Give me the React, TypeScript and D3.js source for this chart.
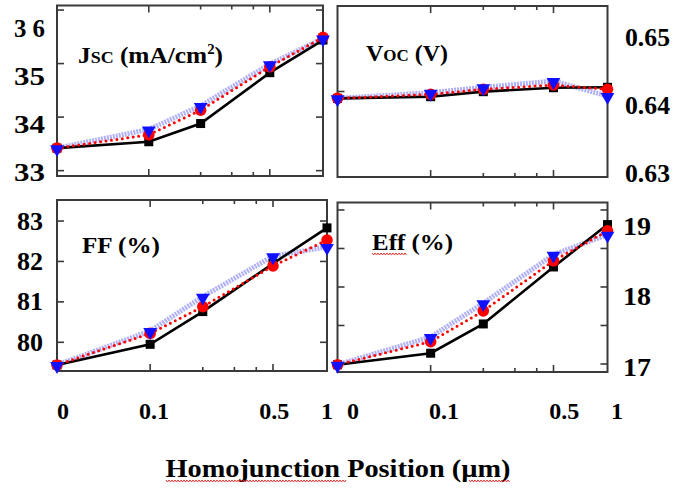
import React from 'react';
import * as d3 from 'd3';

// ---------- data ----------
const positions = [0, 0.1, 0.2, 0.5, 1];
const xLabelValues = [0, 0.1, 0.5, 1];
const xTickLabels = ['0', '0.1', '0.5', '1'];
const xMajorTicks = [0.1, 0.5];
const xMinorTicks = [0.2, 0.3, 0.4];

const jscSquares = [33.42, 33.54, 33.88, 34.83, 35.44];
const jscCircles = [33.42, 33.67, 34.13, 34.94, 35.49];
const jscTriangles = [33.42, 33.77, 34.21, 34.99, 35.47];

const vocSquares = [0.6392, 0.63939, 0.63998, 0.64044, 0.64049];
const vocCircles = [0.6392, 0.63967, 0.64026, 0.64076, 0.64026];
const vocTriangles = [0.6392, 0.63986, 0.64049, 0.64123, 0.63947];

const ffSquares = [79.44, 79.95, 80.76, 81.95, 82.83];
const ffCircles = [79.44, 80.22, 80.88, 81.89, 82.53];
const ffTriangles = [79.44, 80.28, 81.13, 82.13, 82.36];

const effSquares = [16.99, 17.14, 17.52, 18.26, 18.81];
const effCircles = [16.99, 17.29, 17.69, 18.34, 18.73];
const effTriangles = [16.99, 17.35, 17.79, 18.42, 18.68];

const jscTicks = [33, 34, 35, 36];
const jscTickLabels = ['33', '34', '35', '3 6'];
const vocTicks = [0.64];
const vocLabelValues = [0.63, 0.64, 0.65];
const vocTickLabels = ['0.63', '0.64', '0.65'];
const ffTicks = [80, 81, 82, 83];
const ffTickLabels = ['80', '81', '82', '83'];
const effTicks = [17, 17.5, 18, 18.5, 19];
const effLabelValues = [17, 18, 19];
const effTickLabels = ['17', '18', '19'];

// ---------- layout ----------
const W = 676;
const H = 488;
const FONT = "'Liberation Serif','Times New Roman',serif";
const X_STOPS = [0, 0.1, 0.2, 0.3, 0.4, 0.5, 1];
const X_FRACS = [0, 0.345, 0.54, 0.657, 0.738, 0.8, 1];
const FRAME = '#3a3a3a';

type Panel = {
  key: string;
  x0: number; x1: number; y0: number; y1: number;
  domain: [number, number];
  sq: number[]; ci: number[]; tr: number[];
  ticks: number[];
  tickRight: boolean;
  labelValues: number[];
  labels: string[];
  labelRange: [number, number] | null; // null => use main scale
  labelDomain: [number, number];
  labelX: number; labelAnchor: 'start' | 'end'; labelWidth: number;
};

const panels: Panel[] = [
  {
    key: 'jsc', x0: 57, x1: 323, y0: 5.5, y1: 176, domain: [32.9, 36.085],
    sq: jscSquares, ci: jscCircles, tr: jscTriangles,
    ticks: jscTicks, tickRight: true,
    labelValues: jscTicks, labels: jscTickLabels,
    labelDomain: [33, 36], labelRange: [172, 28],
    labelX: 45, labelAnchor: 'end', labelWidth: 31,
  },
  {
    key: 'voc', x0: 337.5, x1: 607.5, y0: 6, y1: 177, domain: [0.63, 0.65],
    sq: vocSquares, ci: vocCircles, tr: vocTriangles,
    ticks: vocTicks, tickRight: false,
    labelValues: vocLabelValues, labels: vocTickLabels,
    labelDomain: [0.63, 0.65], labelRange: [173, 37],
    labelX: 625, labelAnchor: 'start', labelWidth: 45,
  },
  {
    key: 'ff', x0: 57, x1: 327, y0: 200, y1: 371, domain: [79.29, 83.52],
    sq: ffSquares, ci: ffCircles, tr: ffTriangles,
    ticks: ffTicks, tickRight: true,
    labelValues: ffTicks, labels: ffTickLabels,
    labelDomain: [80, 83], labelRange: null,
    labelX: 17, labelAnchor: 'start', labelWidth: 26,
  },
  {
    key: 'eff', x0: 337.5, x1: 607.5, y0: 202.5, y1: 372, domain: [16.896, 19.097],
    sq: effSquares, ci: effCircles, tr: effTriangles,
    ticks: effTicks, tickRight: true,
    labelValues: effLabelValues, labels: effTickLabels,
    labelDomain: [17, 19], labelRange: [367, 226],
    labelX: 623, labelAnchor: 'start', labelWidth: 28,
  },
];

function wavy(x0: number, x1: number, y: number) {
  const pts: [number, number][] = [];
  for (let x = x0, i = 0; x <= x1; x += 1.5, i++) pts.push([x, y + (i % 2 === 0 ? -1 : 1)]);
  return d3.line()(pts) || '';
}

function PanelView({ p }: { p: Panel }) {
  const x = d3.scaleLinear().domain(X_STOPS).range(X_FRACS.map((f) => p.x0 + f * (p.x1 - p.x0)));
  const y = d3.scaleLinear().domain(p.domain).range([p.y1, p.y0]);
  const ly = p.labelRange
    ? d3.scaleLinear().domain(p.labelDomain).range(p.labelRange)
    : y;
  const line = d3.line<number>().x((_, i) => x(positions[i])).y((v) => y(v));
  const tri = d3.symbol().type(d3.symbolTriangle).size(82)();
  return (
    <g>
      {/* lines */}
      <path d={line(p.tr) || ''} fill="none" stroke="#b0b0f6" strokeWidth={5} strokeDasharray="2 1" />
      <path d={line(p.sq) || ''} fill="none" stroke="#000" strokeWidth={2.6} />
      <path d={line(p.ci) || ''} fill="none" stroke="#ff0000" strokeWidth={3} strokeDasharray="0 5.5" strokeLinecap="round" />
      {/* frame */}
      <rect x={p.x0} y={p.y0} width={p.x1 - p.x0} height={p.y1 - p.y0} fill="none" stroke={FRAME} strokeWidth={2} />
      {/* x ticks */}
      {xMajorTicks.map((t) => (
        <g key={'M' + t}>
          <line x1={x(t)} x2={x(t)} y1={p.y1} y2={p.y1 - 7} stroke={FRAME} strokeWidth={1.6} />
          <line x1={x(t)} x2={x(t)} y1={p.y0} y2={p.y0 + 7} stroke={FRAME} strokeWidth={1.6} />
        </g>
      ))}
      {xMinorTicks.map((t) => (
        <g key={'m' + t}>
          <line x1={x(t)} x2={x(t)} y1={p.y1} y2={p.y1 - 4} stroke={FRAME} strokeWidth={1.6} />
          <line x1={x(t)} x2={x(t)} y1={p.y0} y2={p.y0 + 4} stroke={FRAME} strokeWidth={1.6} />
        </g>
      ))}
      {/* y ticks */}
      {p.ticks.map((t) => (
        <g key={'y' + t}>
          <line x1={p.x0} x2={p.x0 + 7} y1={y(t)} y2={y(t)} stroke={FRAME} strokeWidth={1.6} />
          {p.tickRight && (
            <line x1={p.x1} x2={p.x1 - 7} y1={y(t)} y2={y(t)} stroke={FRAME} strokeWidth={1.6} />
          )}
        </g>
      ))}
      {/* markers */}
      {p.sq.map((v, i) => (
        <rect key={'s' + i} x={x(positions[i]) - 4.5} y={y(v) - 4.5} width={9} height={9} fill="#000" />
      ))}
      {p.ci.map((v, i) => (
        <circle key={'c' + i} cx={x(positions[i])} cy={y(v)} r={5.8} fill="#ff0000" />
      ))}
      {p.tr.map((v, i) => (
        <path key={'t' + i} d={tri || ''} transform={`translate(${x(positions[i])},${y(v) + 1}) rotate(180)`} fill="#1010ff" />
      ))}
      {/* y labels */}
      {p.labelValues.map((v, i) => (
        <text
          key={'l' + v}
          x={p.labelX}
          y={ly(v) + 8.5}
          textAnchor={p.labelAnchor}
          fontFamily={FONT}
          fontWeight="bold"
          fontSize={25}
          textLength={p.labelWidth}
          lengthAdjust="spacingAndGlyphs"
        >
          {p.labels[i]}
        </text>
      ))}
    </g>
  );
}

export default function App() {
  const xl = d3.scaleLinear().domain(X_STOPS);
  const leftLab = xl.copy().range(X_FRACS.map((f) => 63 + f * (327 - 63)));
  const rightLab = xl.copy().range(X_FRACS.map((f) => 353 + f * (617 - 353)));
  return (
    <svg width={W} height={H} style={{ position: 'absolute', left: 0, top: 0, background: '#fff' }}>
      <rect width={W} height={H} fill="#fff" />
      {panels.map((p) => (
        <PanelView key={p.key} p={p} />
      ))}
      {/* panel titles */}
      <text x={78} y={63} fontFamily={FONT} fontWeight="bold" fontSize={24} textLength={145} lengthAdjust="spacingAndGlyphs">
        J<tspan fontSize={17}>SC</tspan> (mA/cm<tspan fontSize={14} dy={-9}>2</tspan><tspan dy={9}>)</tspan>
      </text>
      <text x={366} y={61} fontFamily={FONT} fontWeight="bold" fontSize={24} textLength={82} lengthAdjust="spacingAndGlyphs">
        V<tspan fontSize={17}>OC</tspan> (V)
      </text>
      <text x={82} y={253} fontFamily={FONT} fontWeight="bold" fontSize={24} textLength={78} lengthAdjust="spacingAndGlyphs">
        FF (%)
      </text>
      <text x={372} y={250} fontFamily={FONT} fontWeight="bold" fontSize={24} textLength={81} lengthAdjust="spacingAndGlyphs">
        Eff (%)
      </text>
      <path d={wavy(372, 407, 254)} fill="none" stroke="#e02020" strokeWidth={0.9} />
      {/* x labels */}
      {xLabelValues.map((v, i) => (
        <text key={'xl' + i} x={leftLab(v)} y={419} textAnchor="middle" fontFamily={FONT} fontWeight="bold" fontSize={24}>
          {xTickLabels[i]}
        </text>
      ))}
      {xLabelValues.map((v, i) => (
        <text key={'xr' + i} x={rightLab(v)} y={419} textAnchor="middle" fontFamily={FONT} fontWeight="bold" fontSize={24}>
          {xTickLabels[i]}
        </text>
      ))}
      <text x={338} y={477} textAnchor="middle" fontFamily={FONT} fontWeight="bold" fontSize={26} textLength={345} lengthAdjust="spacingAndGlyphs">
        Homojunction Position (µm)
      </text>
      <path d={wavy(166, 347, 481)} fill="none" stroke="#e02020" strokeWidth={0.9} />
      <path d={wavy(469, 510, 481)} fill="none" stroke="#e02020" strokeWidth={0.9} />
    </svg>
  );
}
